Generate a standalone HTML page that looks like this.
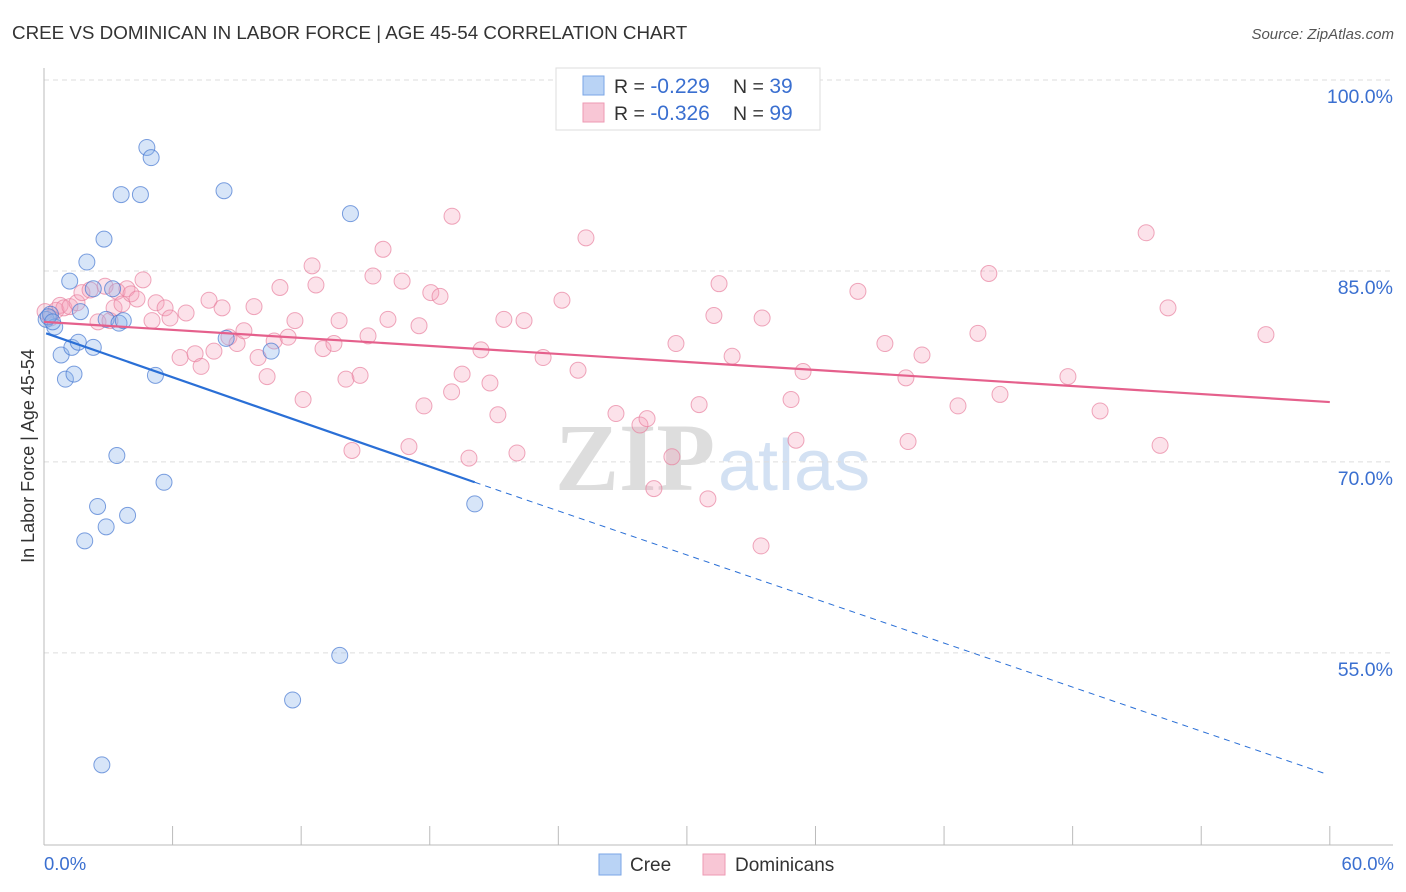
<!DOCTYPE html>
<html><head><meta charset="utf-8"><style>
body{margin:0;background:#fff;font-family:"Liberation Sans",sans-serif;}
svg{display:block}
</style></head><body>
<svg id="chart" width="1406" height="892">
<text x="12" y="39" font-size="18.8" fill="#333">CREE VS DOMINICAN IN LABOR FORCE | AGE 45-54 CORRELATION CHART</text>
<text x="1394" y="39" font-size="15" fill="#555" font-style="italic" text-anchor="end">Source: ZipAtlas.com</text>
<text x="555" y="490" font-size="96" fill="#ddd" font-family="Liberation Serif" font-weight="bold">ZIP</text>
<text x="718" y="490" font-size="72" fill="#d3e1f3">atlas</text>
<g id="grid"></g>
<g id="pts"></g>
<g id="trend"></g>
<text transform="translate(34,456) rotate(-90)" font-size="18" fill="#333" text-anchor="middle">In Labor Force | Age 45-54</text>
<text x="44" y="870" font-size="18.5" fill="#3a6fd0">0.0%</text>
<text x="1394" y="870" font-size="18.5" fill="#3a6fd0" text-anchor="end">60.0%</text>
<g>
<rect x="556" y="68" width="264" height="62" fill="#fff" stroke="#ddd"/>
<rect x="583" y="76" width="21" height="19" fill="#b9d3f5" stroke="#7aa6e6"/>
<rect x="583" y="103" width="21" height="19" fill="#f8c6d5" stroke="#ee9ab3"/>
<text x="614" y="93" font-size="19.5" fill="#333">R = <tspan fill="#3a6fd0" font-size="21">-0.229</tspan></text>
<text x="733" y="93" font-size="19.5" fill="#333">N = <tspan fill="#3a6fd0" font-size="21">39</tspan></text>
<text x="614" y="120" font-size="19.5" fill="#333">R = <tspan fill="#3a6fd0" font-size="21">-0.326</tspan></text>
<text x="733" y="120" font-size="19.5" fill="#333">N = <tspan fill="#3a6fd0" font-size="21">99</tspan></text>
</g>
<g>
<rect x="599" y="854" width="22" height="21" fill="#b9d3f5" stroke="#7aa6e6"/>
<text x="630" y="871" font-size="19" fill="#333">Cree</text>
<rect x="703" y="854" width="22" height="21" fill="#f8c6d5" stroke="#ee9ab3"/>
<text x="735" y="871" font-size="19" fill="#333">Dominicans</text>
</g>
</svg>
<script>
const yTicks=[100,85,70,55];
const xTicks=[0,6,12,18,24,30,36,42,48,54,60];
const creeX=[0.1,0.3,0.5,0.8,1.0,1.2,1.3,1.4,1.6,1.7,1.9,2.0,2.3,2.3,2.5,2.7,2.8,2.9,2.9,3.2,3.4,3.5,3.6,3.7,3.9,4.5,4.8,5.0,5.2,5.6,8.4,8.5,10.6,11.6,13.8,14.3,20.1,0.2,0.4];
const creeY=[81.2,81.6,80.6,78.4,76.5,84.2,79.0,76.9,79.4,81.8,63.8,85.7,83.6,79.0,66.5,46.2,87.5,64.9,81.2,83.6,70.5,80.9,91.0,81.1,65.8,91.0,94.7,93.9,76.8,68.4,91.3,79.7,78.7,51.3,54.8,89.5,66.7,81.4,81.0];
const domX=[0.05,0.3,0.56,0.75,0.93,1.21,1.54,1.77,2.15,2.52,2.85,3.08,3.27,3.41,3.64,3.87,4.06,4.34,4.62,5.04,5.23,5.65,5.88,6.35,6.63,7.05,7.33,7.7,7.93,8.31,8.63,9.01,9.33,9.8,9.99,10.41,10.74,11.01,11.39,11.71,12.09,12.51,12.69,13.02,13.53,13.77,14.09,14.37,14.75,15.12,15.35,15.82,16.05,16.71,17.03,17.5,17.73,18.05,18.48,19.02,19.04,19.51,19.83,20.39,20.81,21.18,21.46,22.07,22.4,23.29,24.17,24.92,25.29,26.69,27.81,28.14,28.46,29.3,29.49,30.57,30.98,31.26,31.5,32.11,33.46,33.51,34.86,35.09,35.42,37.98,39.24,40.22,40.32,40.97,42.65,43.58,44.09,44.61,47.78,49.28,51.43,52.08,52.45,57.02];
const domY=[81.8,81.3,81.9,82.3,82.1,82.2,82.5,83.3,83.5,81.0,83.8,81.1,82.1,83.4,82.4,83.6,83.2,82.8,84.3,81.1,82.5,82.1,81.3,78.2,81.7,78.5,77.5,82.7,78.7,82.1,79.8,79.3,80.3,82.2,78.2,76.7,79.5,83.7,79.8,81.1,74.9,85.4,83.9,78.9,79.3,81.1,76.5,70.9,76.8,79.9,84.6,86.7,81.2,84.2,71.2,80.7,74.4,83.3,83.0,75.5,89.3,76.9,70.3,78.8,76.2,73.7,81.2,70.7,81.1,78.2,82.7,77.2,87.6,73.8,72.9,73.4,67.9,70.4,79.3,74.5,67.1,81.5,84.0,78.3,63.4,81.3,74.9,71.7,77.1,83.4,79.3,76.6,71.6,78.4,74.4,80.1,84.8,75.3,76.7,74.0,88.0,71.3,82.1,80.0];
const X=v=>44+v*21.43, Y=v=>80+(100-v)*12.73;
const NS='http://www.w3.org/2000/svg';
function mk(t,a,p){const e=document.createElementNS(NS,t);for(const k in a)e.setAttribute(k,a[k]);p.appendChild(e);return e;}
const g=document.getElementById('grid');
yTicks.forEach(v=>{
 const l=mk('line',{x1:44,x2:1393,y1:Y(v),y2:Y(v),stroke:'#ddd','stroke-dasharray':'5,4'},g);
 
 
 const t=mk('text',{x:1393,y:Y(v)+23,'font-size':19.5,fill:'#3a6fd0','text-anchor':'end'},g);t.textContent=v.toFixed(1)+'%';
 
 
});
mk('line',{x1:44,x2:44,y1:68,y2:845,stroke:'#bbb'},g);
mk('line',{x1:44,x2:1393,y1:845,y2:845,stroke:'#bbb'},g);
xTicks.forEach(v=>{const l=mk('line',{x1:X(v),x2:X(v),y1:826,y2:845,stroke:'#bbb'},g);
 
 });
const p=document.getElementById('pts');
domX.forEach((x,i)=>{const c=mk('circle',{cx:X(x),cy:Y(domY[i]),r:8,fill:'rgba(244,160,186,0.3)',stroke:'rgba(232,130,160,0.7)','stroke-width':1},p);
 
 });
creeX.forEach((x,i)=>{const c=mk('circle',{cx:X(x),cy:Y(creeY[i]),r:8,fill:'rgba(140,180,235,0.35)',stroke:'rgba(70,120,210,0.7)','stroke-width':1},p);
 
 });
const tr=document.getElementById('trend');
let l=mk('line',{x1:X(0),y1:Y(81),x2:X(60),y2:Y(74.7),stroke:'#e5608c','stroke-width':2.2},tr);


l=mk('line',{x1:X(0.1),y1:Y(80.1),x2:X(20.1),y2:Y(68.4),stroke:'#2a6fd6','stroke-width':2.2},tr);


l=mk('line',{x1:X(20.1),y1:Y(68.4),x2:X(59.8),y2:Y(45.5),stroke:'#2a6fd6','stroke-width':1,'stroke-dasharray':'6,5'},tr);


</script>
</body></html>
